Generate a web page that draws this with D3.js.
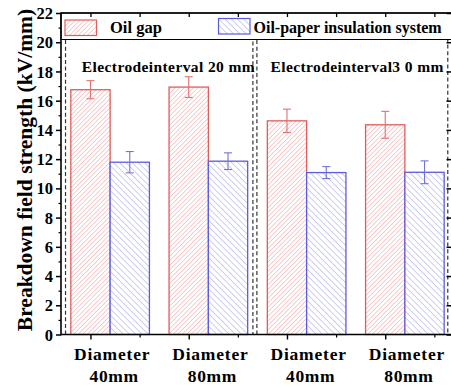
<!DOCTYPE html>
<html>
<head>
<meta charset="utf-8">
<script src="https://cdn.jsdelivr.net/npm/d3@7"></script>
<style>
  html, body { margin: 0; padding: 0; background: #fff; }
  svg { display: block; }
  svg text { font-family: "Liberation Serif", "Times New Roman", serif !important; font-weight: bold; fill: #000; }
</style>
</head>
<body>
<svg id="chart" width="451" height="387"></svg>
<script>
// Breakdown field strength for two electrode gaps and two electrode diameters
const catLine1 = ["Diameter", "Diameter", "Diameter", "Diameter"];
const catLine2 = ["40mm", "80mm", "40mm", "80mm"];
const categories = ["g20d40", "g20d80", "g30d40", "g30d80"];
const seriesNames = ["Oil gap", "Oil-paper insulation system"];
const oilGap = [16.75, 16.93, 14.62, 14.35];
const oilGapErr = [0.62, 0.71, 0.80, 0.92];
const oilPaper = [11.79, 11.86, 11.08, 11.10];
const oilPaperErr = [0.73, 0.57, 0.41, 0.78];
const intervalLabels = ["Electrodeinterval 20 mm", "Electrodeinterval3 0 mm"];
const yTicks = [0, 2, 4, 6, 8, 10, 12, 14, 16, 18, 20, 22];
const yMinorTicks = [1, 3, 5, 7, 9, 11, 13, 15, 17, 19, 21];

const svg = d3.select("#chart");
const pLeft = 61, pRight = 452, pTop = 13, pBottom = 334.5;

const y = d3.scaleLinear().domain([0, 22]).range([pBottom, pTop]);
const xGroup = d3.scaleBand().domain(categories).range([pLeft, 454])
  .paddingInner(0.2).paddingOuter(0.1);
const xSeries = d3.scaleBand().domain(seriesNames).range([0, xGroup.bandwidth()]);

const colors = {
  stroke: ["#e25c5c", "#5c5ce0"],
  hatch: ["#ee9090", "#9090e2"],
  err: ["#e07272", "#7272e0"]
};

// hatch fills
const defs = svg.append("defs");
const hatch = [
  { id: "hatchRed", size: 3.2, rot: 45, color: colors.hatch[0] },
  { id: "hatchBlue", size: 4.4, rot: -45, color: colors.hatch[1] }
];
hatch.forEach(h => {
  const p = defs.append("pattern")
    .attr("id", h.id).attr("patternUnits", "userSpaceOnUse")
    .attr("width", h.size).attr("height", h.size)
    .attr("patternTransform", `rotate(${h.rot})`);
  p.append("rect").attr("width", h.size).attr("height", h.size).attr("fill", "#fff");
  p.append("line").attr("x1", 0).attr("y1", 0).attr("x2", 0).attr("y2", h.size)
    .attr("stroke", h.color).attr("stroke-width", 0.9);
});

// dashed boxes for the two electrode gaps
const mid = (xGroup(categories[1]) + xGroup.bandwidth() + xGroup(categories[2])) / 2;
const boxTop = y(20.55);
const boxes = [
  { x0: xGroup(categories[0]) - 5.3, x1: mid - 4.6 },
  { x0: mid - 0.6, x1: xGroup(categories[3]) + xGroup.bandwidth() + 3.6 }
];
svg.append("g").selectAll("path").data(boxes).join("path")
  .attr("d", d => `M${d.x0},${pBottom}V${boxTop}H${d.x1}V${pBottom}`)
  .attr("fill", "none").attr("stroke", "#333").attr("stroke-width", 1.2)
  .attr("stroke-dasharray", "4,2.6");

// bars
const seriesVals = [oilGap, oilPaper];
const seriesErr = [oilGapErr, oilPaperErr];
const barG = svg.append("g");
seriesNames.forEach((s, si) => {
  const data = categories.map((c, i) => ({ c, v: seriesVals[si][i], e: seriesErr[si][i] }));
  barG.append("g").selectAll("rect").data(data).join("rect")
    .attr("x", d => xGroup(d.c) + xSeries(s))
    .attr("y", d => y(d.v))
    .attr("width", xSeries.bandwidth())
    .attr("height", d => y(0) - y(d.v))
    .attr("fill", `url(#${hatch[si].id})`)
    .attr("stroke", colors.stroke[si]).attr("stroke-width", 1.3);
  const eg = barG.append("g").attr("stroke", colors.err[si]).attr("stroke-width", 1.1);
  data.forEach(d => {
    const cx = xGroup(d.c) + xSeries(s) + xSeries.bandwidth() / 2;
    eg.append("line").attr("x1", cx).attr("x2", cx).attr("y1", y(d.v + d.e)).attr("y2", y(d.v - d.e));
    eg.append("line").attr("x1", cx - 4).attr("x2", cx + 4).attr("y1", y(d.v + d.e)).attr("y2", y(d.v + d.e));
    eg.append("line").attr("x1", cx - 4).attr("x2", cx + 4).attr("y1", y(d.v - d.e)).attr("y2", y(d.v - d.e));
  });
});

// interval labels
const labelPos = [xGroup(categories[0]) + 11, mid + 13];
svg.append("g").selectAll("text").data(intervalLabels).join("text")
  .attr("x", (d, i) => labelPos[i]).attr("y", 71.5)
  .attr("font-size", 15.5).style("letter-spacing", "0.4px")
  .text(d => d);

// legend box
svg.append("rect").attr("x", pLeft).attr("y", pTop).attr("width", pRight - pLeft).attr("height", 39.5 - pTop)
  .attr("fill", "#fff").attr("stroke", "#000").attr("stroke-width", 1);
const legendItems = [
  { x: 65, y: 20, tx: 110, fs: 16.5 },
  { x: 218.5, y: 18.5, tx: 253.5, fs: 16 }
];
seriesNames.forEach((s, si) => {
  const it = legendItems[si];
  svg.append("rect").attr("x", it.x).attr("y", it.y).attr("width", 31.5).attr("height", 15.5)
    .attr("fill", `url(#${hatch[si].id})`).attr("stroke", colors.stroke[si]).attr("stroke-width", 1.2);
  svg.append("text").attr("x", it.tx).attr("y", 33).attr("font-size", it.fs).text(s);
});

// axes
const axisG = svg.append("g").attr("stroke", "#000").attr("fill", "none");
const yAxis = d3.axisLeft(y).tickValues(yTicks).tickSize(5).tickPadding(3).tickFormat(d3.format("d"));
const gy = svg.append("g").attr("transform", `translate(${pLeft},0)`).call(yAxis);
gy.select(".domain").remove();
gy.selectAll(".tick line").attr("stroke-width", 1.5);
gy.selectAll(".tick text").attr("font-size", 16.5).attr("dy", "0.34em");
const gyMinor = svg.append("g").attr("transform", `translate(${pLeft},0)`)
  .call(d3.axisLeft(y).tickValues(yMinorTicks).tickSize(2.5).tickFormat(""));
gyMinor.select(".domain").remove();
gyMinor.selectAll(".tick line").attr("stroke-width", 1.2);

// right axis ticks (inward)
const gr = svg.append("g").attr("transform", `translate(${pRight},0)`)
  .call(d3.axisLeft(y).tickValues(yTicks).tickSize(0).tickFormat(""));
gr.select(".domain").remove();
gr.selectAll(".tick line").attr("x2", -5.5).attr("stroke-width", 1.5);

// x ticks: majors at first-series bar centres, minors halfway between
const majorX = categories.map(c => xGroup(c) + xSeries(seriesNames[0]) + xSeries.bandwidth() / 2);
const minorX = majorX.map(v => v + xGroup.step() / 2);
const xt = d3.scaleLinear().domain([pLeft, 454]).range([pLeft, 454]);
const gxb = svg.append("g").attr("transform", `translate(0,${pBottom})`)
  .call(d3.axisBottom(xt).tickValues(majorX).tickSize(5).tickFormat(""));
gxb.select(".domain").remove();
gxb.selectAll(".tick line").attr("stroke-width", 1.4);
const gxbm = svg.append("g").attr("transform", `translate(0,${pBottom})`)
  .call(d3.axisBottom(xt).tickValues(minorX).tickSize(3).tickFormat(""));
gxbm.select(".domain").remove();
gxbm.selectAll(".tick line").attr("stroke-width", 1.2);
const gxt = svg.append("g").attr("transform", `translate(0,${pTop})`)
  .call(d3.axisBottom(xt).tickValues(majorX.concat(minorX)).tickSize(4).tickFormat(""));
gxt.select(".domain").remove();
gxt.selectAll(".tick line").attr("stroke-width", 1.3);

// frame
axisG.append("line").attr("x1", pLeft).attr("x2", pLeft).attr("y1", pTop - 0.5).attr("y2", pBottom + 0.75).attr("stroke-width", 1.6);
axisG.append("line").attr("x1", pLeft).attr("x2", pRight + 2).attr("y1", pBottom).attr("y2", pBottom).attr("stroke-width", 1.6);
axisG.append("line").attr("x1", pLeft).attr("x2", pRight + 2).attr("y1", pTop).attr("y2", pTop).attr("stroke-width", 1.4);
axisG.append("line").attr("x1", pRight).attr("x2", pRight).attr("y1", pTop).attr("y2", pBottom).attr("stroke-width", 1.4);

// category labels
const catG = svg.append("g").attr("text-anchor", "middle").attr("font-size", 17.5);
categories.forEach((c, i) => {
  const cx = xGroup(c) + xGroup.bandwidth() / 2 + 2;
  catG.append("text").attr("x", cx).attr("y", 360).style("letter-spacing", "0.8px").text(catLine1[i]);
  catG.append("text").attr("x", cx + 2).attr("y", 381.5).style("letter-spacing", "0.6px").text(catLine2[i]);
});

// y axis title
svg.append("text").attr("transform", "translate(32,170) rotate(-90)")
  .attr("text-anchor", "middle").attr("font-size", 21.5)
  .text("Breakdown field strength (kV/mm)");
</script>
</body>
</html>
